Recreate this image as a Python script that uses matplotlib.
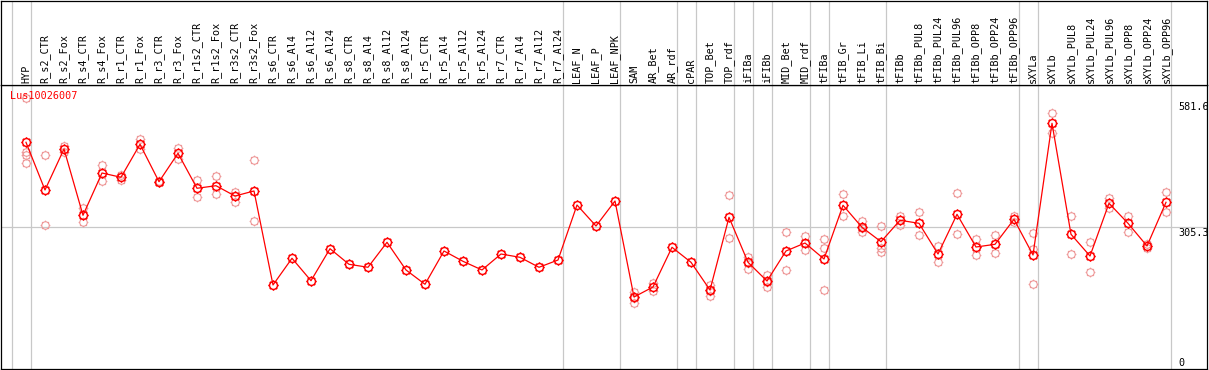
import numpy as np
import matplotlib
matplotlib.use("Agg")
import matplotlib.pyplot as plt
from matplotlib.path import Path

# ---------------- data ----------------
gene = "Lus10026007"

categories = [
    "HYP", "R_s2_CTR", "R_s2_Fox", "R_s4_CTR", "R_s4_Fox", "R_r1_CTR", "R_r1_Fox",
    "R_r3_CTR", "R_r3_Fox", "R_r1s2_CTR", "R_r1s2_Fox", "R_r3s2_CTR", "R_r3s2_Fox",
    "R_s6_CTR", "R_s6_Al4", "R_s6_Al12", "R_s6_Al24", "R_s8_CTR", "R_s8_Al4",
    "R_s8_Al12", "R_s8_Al24", "R_r5_CTR", "R_r5_Al4", "R_r5_Al12", "R_r5_Al24",
    "R_r7_CTR", "R_r7_Al4", "R_r7_Al12", "R_r7_Al24", "LEAF_N", "LEAF_P", "LEAF_NPK",
    "SAM", "AR_Bet", "AR_rdf", "cPAR", "TOP_Bet", "TOP_rdf", "iFIBa", "iFIBb",
    "MID_Bet", "MID_rdf", "tFIBa", "tFIB_Gr", "tFIB_Li", "tFIB_Bi", "tFIBb",
    "tFIBb_PUL8", "tFIBb_PUL24", "tFIBb_PUL96", "tFIBb_OPP8", "tFIBb_OPP24",
    "tFIBb_OPP96", "sXYLa", "sXYLb", "sXYLb_PUL8", "sXYLb_PUL24", "sXYLb_PUL96",
    "sXYLb_OPP8", "sXYLb_OPP24", "sXYLb_OPP96",
]

means = [
    487.1, 384.7, 472.7, 330.4, 421.2, 412.0, 482.8, 402.5, 463.5, 388.4, 393.9,
    371.8, 382.6, 180.8, 238.1, 190.0, 258.7, 225.2, 218.8, 272.4, 213.0, 182.3,
    253.8, 231.6, 213.0, 247.3, 240.2, 218.8, 234.4, 352.5, 307.4, 361.1, 155.0,
    176.5, 261.7, 229.5, 170.0, 326.1, 229.5, 189.3, 253.8, 270.9, 236.6, 351.9,
    304.6, 273.7, 319.7, 313.2, 247.3, 332.5, 262.3, 268.1, 321.8, 245.2, 527.9,
    289.6, 243.0, 356.2, 313.2, 264.5, 358.3,
]

replicates = [
    [581.6, 466.9, 459.8, 442.0], [459.2, 308.9], [479.8, 465.6], [345.4, 315.4],
    [437.7, 403.4], [416.3, 406.2], [494.2, 472.7], [404.7, 402.5], [475.5, 450.6],
    [406.2, 370.3], [414.8, 375.5], [381.1, 359.6], [448.5, 318.2],
    [], [], [], [], [], [], [], [], [], [], [], [], [], [], [], [],
    [], [], [],
    [165.1, 153.5, 142.8], [185.7, 168.5], [], [], [180.1, 168.5, 157.8],
    [374.0, 281.0], [241.5, 228.6, 215.1], [202.2, 187.8, 175.8], [293.9, 213.0],
    [285.3, 255.3], [279.5, 259.5, 170.0], [376.1, 328.9], [318.2, 302.5, 293.9],
    [306.8, 259.5, 252.2], [328.9, 309.6], [336.8, 288.1], [264.5, 230.8],
    [377.6, 290.2], [278.9, 244.5], [288.1, 248.8], [328.9, 316.7],
    [291.8, 257.4, 182.3], [549.4, 506.4], [329.5, 247.3], [272.4, 209.3],
    [368.2, 346.7], [329.5, 293.9], [268.1, 260.8], [379.8, 336.8],
]

group_ends = [-1, 0, 28, 31, 34, 35, 37, 38, 39, 41, 42, 45, 52, 53, 60]
y_labels = [581.6, 305.3, 0]

# ---------------- layout ----------------
W, H = 1209, 370
MONO = "DejaVu Sans Mono"
FS = 7.3
RED = "#ff0000"
PALE = "#ee9a9a"
GRID = "#c8c8c8"


def box(x0, y0, x1, y1):
    return [x0 / W, 1 - y1 / H, (x1 - x0) / W, (y1 - y0) / H]


fig = plt.figure(figsize=(W / 100, H / 100), dpi=100)
ax = fig.add_axes(box(1, 85, 1207, 369))
hx = fig.add_axes(box(1, 0.5, 1207, 85), sharex=ax)

x = np.arange(len(categories))
ax.set_xlim((1 - 26) / 19, (1207 - 26) / 19)
ax.set_ylim(0.43, 610.1)
hx.set_ylim(0, 1)

for a in (ax, hx):
    a.set_xticks([])
    a.set_yticks([])
    for s in a.spines.values():
        s.set_color("black")
        s.set_linewidth(0.9)
    for b in group_ends:
        a.axvline(b + 0.25, color=GRID, lw=0.9, zorder=0)

ax.axhline(y_labels[1], color=GRID, lw=0.9, zorder=0)

# gear-like marker: circle with small ticks
circ = Path.unit_circle()
ang = np.arange(8) * np.pi / 4
tv, tc = [], []
for t in ang:
    tv += [(np.cos(t) * 1.0, np.sin(t) * 1.0), (np.cos(t) * 1.3, np.sin(t) * 1.3)]
    tc += [Path.MOVETO, Path.LINETO]
ticks = Path(tv, tc)
gear = Path.make_compound_path(circ, ticks)

# replicate points
rx, ry = [], []
for i, reps in enumerate(replicates):
    for v in reps:
        rx.append(i)
        ry.append(v)
ax.plot(rx, ry, linestyle="none", marker=gear, ms=7.0, mfc="none", mec=PALE,
        mew=0.8, zorder=2)

# mean line
ax.plot(x, means, color=RED, lw=0.9, zorder=3)
ax.plot(x, means, linestyle="none", marker=gear, ms=7.4, mfc="none", mec=RED,
        mew=1.05, zorder=4)

# header labels
for i, c in enumerate(categories):
    hx.text(i, 2 / 85, c, rotation=90, ha="center", va="bottom", family=MONO,
            fontsize=FS, color="black")

# gene name
ax.text((10 - 1) / 1206, (369 - 91) / 284, gene, transform=ax.transAxes,
        ha="left", va="top", family=MONO, fontsize=FS, color=RED, zorder=5)

# value labels on the right
xr = (1178 - 26) / 19
ax.annotate(f"{y_labels[0]}", xy=(xr, y_labels[0]), xytext=(0, -4),
            textcoords="offset pixels", ha="left", va="top", family=MONO,
            fontsize=FS)
ax.annotate(f"{y_labels[1]}", xy=(xr, y_labels[1]), xytext=(0, -1),
            textcoords="offset pixels", ha="left", va="top", family=MONO,
            fontsize=FS)
ax.annotate(f"{y_labels[2]}", xy=(xr, y_labels[2]), xytext=(0, 3),
            textcoords="offset pixels", ha="left", va="baseline", family=MONO,
            fontsize=FS)

fig.savefig("out.png", dpi=100, facecolor="white")
